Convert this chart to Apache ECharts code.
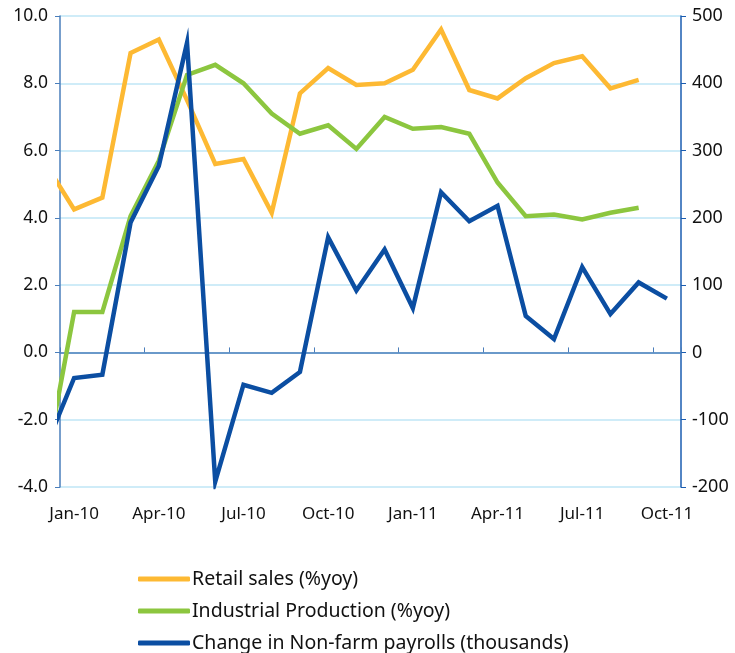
<!DOCTYPE html>
<html>
<head>
<meta charset="utf-8">
<script src="https://cdn.jsdelivr.net/npm/echarts@6/dist/echarts.min.js"></script>
<style>
    html, body { margin: 0; padding: 0; background: #fff; }
    #chart { width: 735px; height: 653px; }
</style>
</head>
<body>
<div id="chart"></div>
<script>
// months shown on the axis (Jan-10 .. Oct-11)
const months = ['Jan-10', 'Feb-10', 'Mar-10', 'Apr-10', 'May-10', 'Jun-10', 'Jul-10', 'Aug-10', 'Sep-10', 'Oct-10', 'Nov-10', 'Dec-10',
    'Jan-11', 'Feb-11', 'Mar-11', 'Apr-11', 'May-11', 'Jun-11', 'Jul-11', 'Aug-11', 'Sep-11', 'Oct-11']
// first value of each series is Dec-09 (clipped by the left axis)
const retailSales = [5.6, 4.25, 4.6, 8.9, 9.3, 7.5, 5.6, 5.75, 4.15, 7.7, 8.45, 7.95, 8.0, 8.4, 9.6, 7.8, 7.55, 8.15, 8.6, 8.8, 7.85, 8.1]
const industrialProduction = [-3.3, 1.2, 1.2, 4.05, 5.7, 8.25, 8.55, 8.0, 7.1, 6.5, 6.75, 6.05, 7.0, 6.65, 6.7, 6.5, 5.05, 4.05, 4.1, 3.95, 4.15, 4.3]
const payrolls = [-140, -38, -33, 193, 277, 460, -192, -48, -60, -29, 171, 92, 153, 66, 238, 195, 218, 54, 20, 127, 57, 104, 80]
const leftTicks = { min: -4, max: 10, step: 2 }
const rightTicks = { min: -200, max: 500, step: 100 }

// x position: Dec-09 sits at -0.5, Jan-10 at 0.5, ...
const toPoints = arr => arr.map((v, i) => [i - 0.5, v])

const textColor = '#111'
const font = 'Noto Sans'

const chart = echarts.init(document.getElementById('chart'))
const option = {
    animation: false,
    color: ['#FDB933', '#8CC63F', '#0B4EA2'],
    grid: { left: 60, right: 54, top: 16, bottom: 166 },
    legend: {
        type: 'plain',
        orient: 'vertical',
        left: 133,
        top: 564,
        height: 200,
        itemWidth: 52,
        itemHeight: 5,
        itemGap: 12,
        icon: 'roundRect',
        textStyle: { color: textColor, fontSize: 19.5, fontFamily: font, padding: [0, 0, 0, -3] },
        data: ['Retail sales (%yoy)', 'Industrial Production (%yoy)', 'Change in Non-farm payrolls (thousands)']
    },
    xAxis: [
        {
            // labels only
            type: 'category',
            data: months,
            boundaryGap: true,
            position: 'bottom',
            axisLine: { show: false, onZero: false },
            axisTick: { show: false },
            splitLine: { show: false },
            axisLabel: { interval: 2, margin: 19, color: textColor, fontSize: 17, fontFamily: font }
        },
        {
            // zero line with tick marks, carries the data
            type: 'value',
            min: 0,
            max: months.length,
            interval: 3,
            axisLine: { onZero: true, onZeroAxisIndex: 0, lineStyle: { color: '#4a7ebb', width: 1.5 } },
            axisTick: { show: true, inside: false, length: 5, lineStyle: { color: '#4a7ebb' } },
            axisLabel: { show: false },
            splitLine: { show: false }
        }
    ],
    yAxis: [
        {
            type: 'value',
            min: leftTicks.min,
            max: leftTicks.max,
            interval: leftTicks.step,
            axisLine: { show: true, lineStyle: { color: '#4a7ebb', width: 1.5 } },
            axisTick: { show: true, length: 5, lineStyle: { color: '#4a7ebb' } },
            splitLine: { lineStyle: { color: '#bfe6f6', width: 1.5 } },
            axisLabel: { margin: 12, color: textColor, fontSize: 17.5, fontFamily: font, formatter: v => v.toFixed(1) }
        },
        {
            type: 'value',
            min: rightTicks.min,
            max: rightTicks.max,
            interval: rightTicks.step,
            position: 'right',
            axisLine: { show: true, lineStyle: { color: '#1a5cb0', width: 1.5 } },
            axisTick: { show: true, length: 5, lineStyle: { color: '#1a5cb0' } },
            splitLine: { show: false },
            axisLabel: { margin: 11, color: textColor, fontSize: 18, fontFamily: font }
        }
    ],
    series: [
        {
            name: 'Retail sales (%yoy)',
            type: 'line',
            xAxisIndex: 1,
            yAxisIndex: 0,
            showSymbol: false,
            data: toPoints(retailSales),
            lineStyle: { width: 4.5, join: 'miter' }
        },
        {
            name: 'Industrial Production (%yoy)',
            type: 'line',
            xAxisIndex: 1,
            yAxisIndex: 0,
            showSymbol: false,
            data: toPoints(industrialProduction),
            lineStyle: { width: 4.5, join: 'miter' }
        },
        {
            name: 'Change in Non-farm payrolls (thousands)',
            type: 'line',
            xAxisIndex: 1,
            yAxisIndex: 1,
            showSymbol: false,
            data: toPoints(payrolls),
            lineStyle: { width: 4.5, join: 'miter' }
        }
    ]
}
chart.setOption(option)
</script>
</body>
</html>
